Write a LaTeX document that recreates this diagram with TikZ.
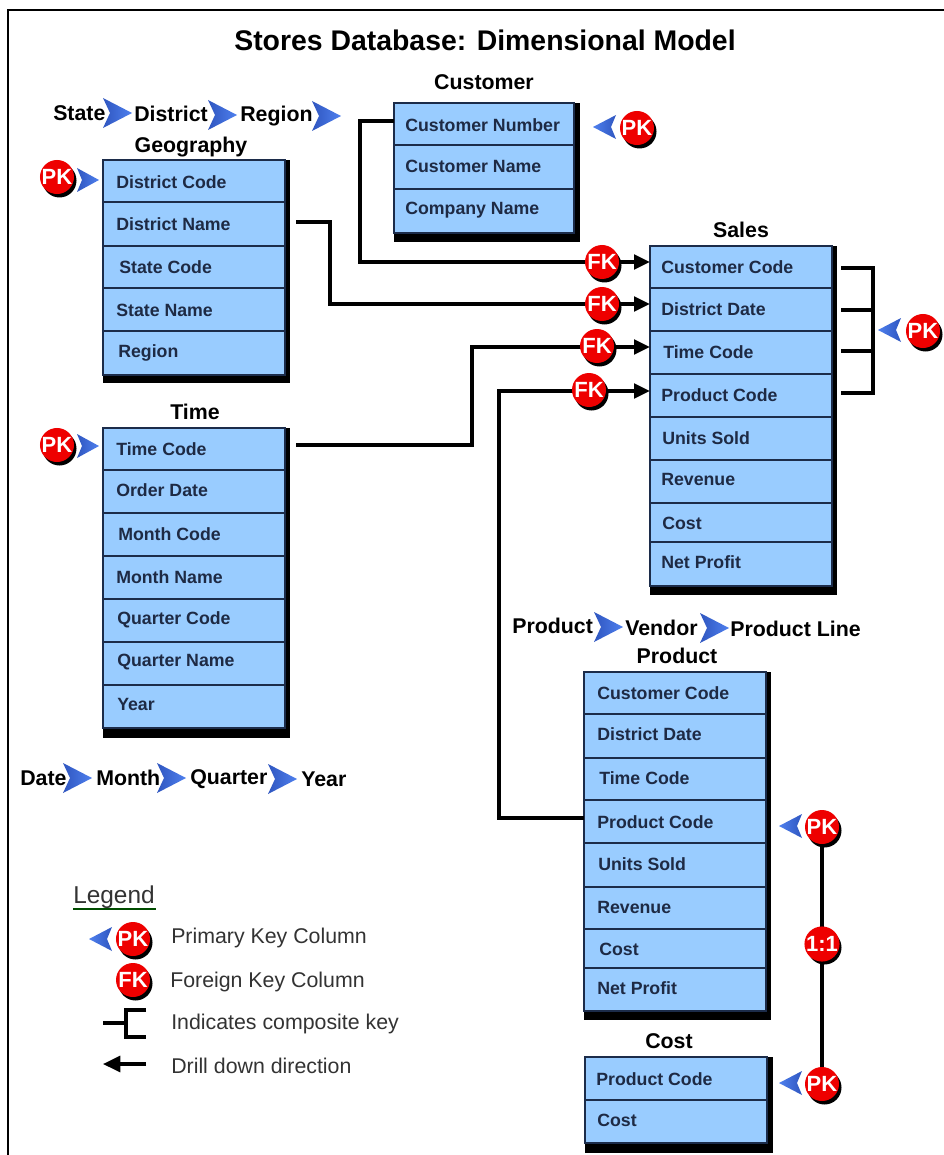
\documentclass[tikz,border=0pt]{standalone}
\usepackage{fontspec}
\setmainfont{Liberation Sans}
\usetikzlibrary{arrows.meta,calc}
\definecolor{rowblue}{HTML}{99CCFF}
\definecolor{rowline}{HTML}{1C2C4A}
\definecolor{rowtext}{HTML}{1E2A44}
\definecolor{chevdark}{HTML}{2F56C0}
\definecolor{chevlight}{HTML}{4F80EE}
\definecolor{ballred}{HTML}{EE0000}
\tikzset{
  px/.style={x=0.75pt,y=-0.75pt},
  rowbox/.style={draw=rowline,line width=1pt,fill=rowblue,inner sep=0pt,outer sep=0pt,anchor=north west},
  rowlabel/.style={anchor=west,inner sep=0pt,text=rowtext,font=\fontsize{13.3}{15}\selectfont\bfseries},
  tabletitle/.style={inner sep=0pt,text=black,font=\fontsize{16}{19}\selectfont\bfseries},
  hierlabel/.style={anchor=west,inner sep=0pt,text=black,font=\fontsize{16}{19}\selectfont\bfseries},
  legendlabel/.style={anchor=west,inner sep=0pt,text=black!80,font=\fontsize{16}{19}\selectfont},
  ball/.style={circle,fill=ballred,minimum size=25.5pt,inner sep=0pt,outer sep=0pt,text=white,font=\fontsize{16.5}{18}\selectfont\bfseries},
  link/.style={line width=2.6pt,black,line join=miter},
  thinlink/.style={line width=2.4pt,black,line join=miter},
  fkarrow/.style={link,-{Triangle[length=12pt,width=11pt]}},
}
\newcommand{\rowtxt}{}
% row: name, x, top, bottom, width, text x, text y
\newcommand{\trow}[7]{%
  \node[rowbox,minimum width=#5*0.75pt,minimum height={(#4-#3)*0.75pt}] (#1) at (#2,#3) {};
  \node[rowlabel] (#1t) at (#6,#7) {\rowtxt};
}
\newcommand{\RR}[8]{\renewcommand{\rowtxt}{#8}\trow{#1}{#2}{#3}{#4}{#5}{#6}{#7}}
\newcommand{\shadowbox}[6]{\fill[black] (#1,#2) rectangle (#5,#6);}
\newcommand{\chevR}[2]{%
  \shade[left color=chevdark,right color=chevlight,draw=none]
    (#1,{#2-15}) -- ({#1+29},#2) -- (#1,{#2+15}) -- ({#1+7},#2) -- cycle;}
\newcommand{\chevRs}[2]{%
  \shade[left color=chevdark,right color=chevlight,draw=none]
    (#1,{#2-12}) -- ({#1+22},#2) -- (#1,{#2+12}) -- ({#1+5},#2) -- cycle;}
\newcommand{\chevL}[2]{%
  \shade[left color=chevlight,right color=chevdark,draw=none]
    (#1,#2) -- ({#1+23},{#2-12}) -- ({#1+18},#2) -- ({#1+23},{#2+12}) -- cycle;}
\newcommand{\keyball}[4]{%
  \fill[black] ({#2+2.5},{#3+3.5}) circle[radius=17];
  \node[ball] (#1) at (#2,#3) {#4};}
\begin{document}
\begin{tikzpicture}[px]
\useasboundingbox (0,0) rectangle (944,1155);
\fill[white] (0,0) rectangle (944,1155);
\draw[black,line width=2.2pt] (8,1160) -- (8,10) -- (950,10);

\node[tabletitle,font=\fontsize{21.3}{25}\selectfont\bfseries] (title) at (485,40) {Stores Database: Dimensional Model};

% --- Customer
\node[tabletitle] (tcust) at (484,82) {Customer};
\shadowbox{394}{103}{574}{233}{580}{242}
\RR{c1}{394}{103}{145}{180}{405}{125}{Customer Number}
\RR{c2}{394}{145}{189}{180}{405}{166}{Customer Name}
\RR{c3}{394}{189}{233}{180}{405}{210}{Company Name}

% --- Geography
\node[tabletitle] (tgeo) at (191,147) {Geography};
\shadowbox{103}{160}{285}{375}{290}{383}
\RR{g1}{103}{160}{202}{182}{116}{182}{District Code}
\RR{g2}{103}{202}{246}{182}{116}{224}{District Name}
\RR{g3}{103}{246}{288}{182}{119}{267}{State Code}
\RR{g4}{103}{288}{331}{182}{116}{310}{State Name}
\RR{g5}{103}{331}{375}{182}{118}{353}{Region}

% --- Time
\node[tabletitle] (ttime) at (195,412) {Time};
\shadowbox{103}{428}{285}{728}{290}{738}
\RR{t1}{103}{428}{470}{182}{116}{449}{Time Code}
\RR{t2}{103}{470}{513}{182}{116}{490}{Order Date}
\RR{t3}{103}{513}{556}{182}{118}{534}{Month Code}
\RR{t4}{103}{556}{599}{182}{116}{577}{Month Name}
\RR{t5}{103}{599}{642}{182}{117}{620}{Quarter Code}
\RR{t6}{103}{642}{685}{182}{117}{662}{Quarter Name}
\RR{t7}{103}{685}{728}{182}{117}{704}{Year}

% --- Sales
\node[tabletitle] (tsales) at (741,230) {Sales};
\shadowbox{650}{246}{832}{586}{837}{595}
\RR{s1}{650}{246}{288}{182}{661}{267}{Customer Code}
\RR{s2}{650}{288}{331}{182}{661}{309}{District Date}
\RR{s3}{650}{331}{374}{182}{663}{352}{Time Code}
\RR{s4}{650}{374}{417}{182}{661}{395}{Product Code}
\RR{s5}{650}{417}{460}{182}{662}{438}{Units Sold}
\RR{s6}{650}{460}{503}{182}{661}{479}{Revenue}
\RR{s7}{650}{503}{542}{182}{662}{523}{Cost}
\RR{s8}{650}{542}{586}{182}{661}{562}{Net Profit}

% --- Product
\node[tabletitle] (tprod) at (677,656) {Product};
\shadowbox{584}{672}{766}{1011}{771}{1020}
\RR{p1}{584}{672}{714}{182}{597}{693}{Customer Code}
\RR{p2}{584}{714}{758}{182}{597}{734}{District Date}
\RR{p3}{584}{758}{800}{182}{599}{778}{Time Code}
\RR{p4}{584}{800}{843}{182}{597}{822}{Product Code}
\RR{p5}{584}{843}{887}{182}{598}{864}{Units Sold}
\RR{p6}{584}{887}{929}{182}{597}{907}{Revenue}
\RR{p7}{584}{929}{968}{182}{599}{949}{Cost}
\RR{p8}{584}{968}{1011}{182}{597}{988}{Net Profit}

% --- Cost
\node[tabletitle] (tcost) at (669,1041) {Cost};
\shadowbox{585}{1057}{767}{1143}{773}{1153}
\RR{k1}{585}{1057}{1100}{182}{596}{1079}{Product Code}
\RR{k2}{585}{1100}{1143}{182}{597}{1120}{Cost}

% --- connectors
\coordinate (c1o) at ($(c1.west)+(0,-3)$);
\coordinate (g2o) at ($(g2.east)+(11,-2)$);
\coordinate (t1o) at ($(t1.east)+(11,-4)$);
\coordinate (p4o) at ($(p4.west)+(0,-3.5)$);
\coordinate (s1i) at ($(s1.west)+(0,-5)$);
\coordinate (s2i) at ($(s2.west)+(0,-5.5)$);
\coordinate (s3i) at ($(s3.west)+(0,-5.5)$);
\coordinate (s4i) at ($(s4.west)+(0,-4.5)$);
\coordinate (s1o) at ($(s1.east)+(9,1)$);
\coordinate (s2o) at ($(s2.east)+(9,0.5)$);
\coordinate (s3o) at ($(s3.east)+(9,-1.5)$);
\coordinate (s4o) at ($(s4.east)+(9,-2.5)$);
\draw[fkarrow] (c1o) -- (360,121) -- (360,262) -- (s1i);
\draw[fkarrow] (g2o) -- (330,222) -- (330,304) -- (s2i);
\draw[fkarrow] (t1o) -- (472,445) -- (472,347) -- (s3i);
\draw[fkarrow] (p4o) -- (499,818) -- (499,391) -- (s4i);

% composite key bracket
\draw[link] (s1o) -- (873,268) -- (873,393) -- (s4o);
\draw[link] (s2o) -- (873,310);
\draw[link] (s3o) -- (873,351);

% 1:1 line
\keyball{pkprod}{822}{827}{PK}
\keyball{pkcost}{822}{1084}{PK}
\draw[link] (pkprod) -- (pkcost);
\keyball{oneone}{822}{944}{1:1}

% balls and chevrons
\chevL{593}{127}
\keyball{pkcust}{637}{128}{PK}
\chevRs{77}{180}
\keyball{pkgeo}{57}{177}{PK}
\chevRs{77}{446}
\keyball{pktime}{57}{445}{PK}
\keyball{fk1}{602}{262}{FK}
\keyball{fk2}{602}{304}{FK}
\keyball{fk3}{597}{346}{FK}
\keyball{fk4}{589}{390}{FK}
\chevL{878}{330}
\keyball{pksales}{923}{331}{PK}
\chevL{779}{826}
\chevL{779}{1083}

% --- hierarchies
\node[hierlabel] (h1) at (53,113) {State};
\chevR{103}{113}
\node[hierlabel] (h2) at (134,114) {District};
\chevR{208}{115}
\node[hierlabel] (h3) at (240,116) {Region};
\chevR{312}{116}

\node[hierlabel] (h4) at (20,778) {Date};
\chevR{63}{778}
\node[hierlabel] (h5) at (96,778) {Month};
\chevR{157}{778}
\node[hierlabel] (h6) at (190,779) {Quarter};
\chevR{268}{779}
\node[hierlabel] (h7) at (301,779) {Year};

\node[hierlabel] (h8) at (512,626) {Product};
\chevR{594}{627}
\node[hierlabel] (h9) at (625,628) {Vendor};
\chevR{700}{628}
\node[hierlabel] (h10) at (730,629) {Product Line};

% --- legend
\node[legendlabel,font=\fontsize{18.3}{22}\selectfont] (lg) at (73,897) {Legend};
\draw[black!70!green,line width=1pt] (73,909) -- (156,909);
\chevL{89}{939}
\keyball{lgpk}{133}{939}{PK}
\keyball{lgfk}{133}{980}{FK}
\node[legendlabel] (l1) at (171,938) {Primary Key Column};
\node[legendlabel] (l2) at (170,982) {Foreign Key Column};
\node[legendlabel] (l3) at (171,1024) {Indicates composite key};
\node[legendlabel] (l4) at (171,1066) {Drill down direction};
\coordinate (lc1) at (103,1023);
\coordinate (lc2) at (126,1023);
\draw[thinlink] (lc1) -- (lc2);
\draw[thinlink] (146,1010) -- (126,1010) -- (126,1037) -- (146,1037);
\coordinate (la1) at (146,1064);
\coordinate (la2) at (103,1064);
\draw[thinlink,-{Triangle[length=13pt,width=12pt]}] (la1) -- (la2);
\end{tikzpicture}
\end{document}
